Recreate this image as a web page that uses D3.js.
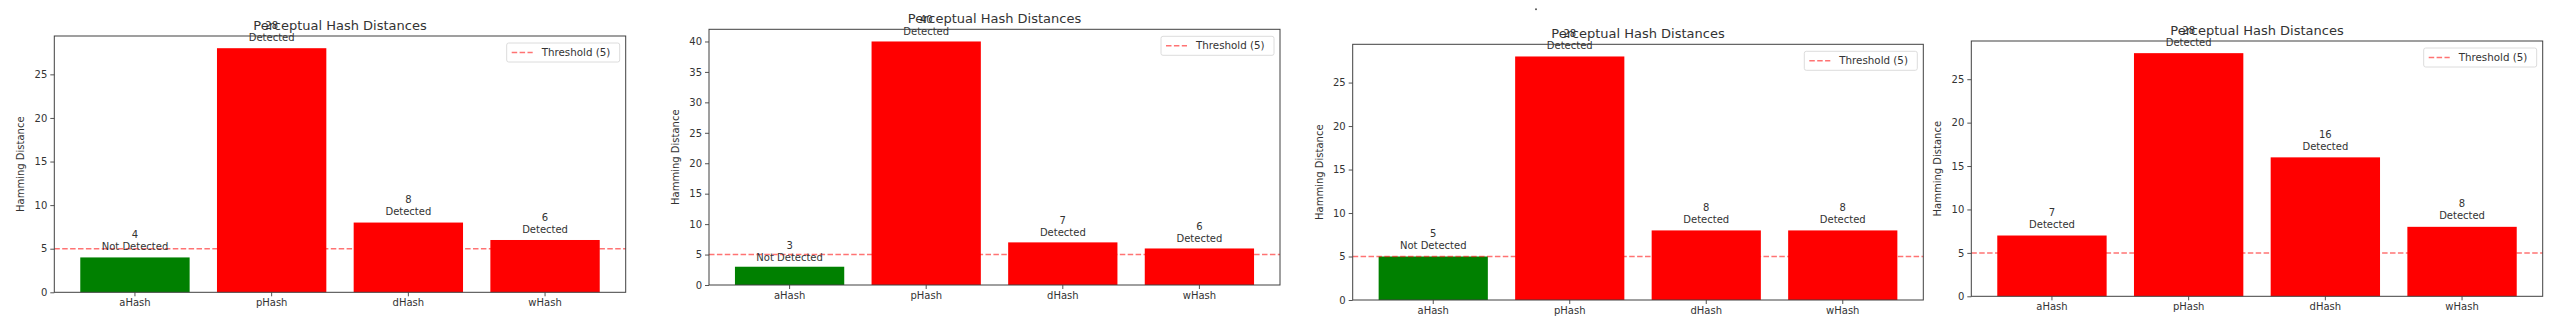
<!DOCTYPE html>
<html>
<head>
<meta charset="utf-8">
<script src="https://cdn.jsdelivr.net/npm/d3@7"></script>
<style>
  html, body { margin: 0; padding: 0; background: #ffffff; }
  svg { display: block; }
  text { font-family: "DejaVu Sans", sans-serif; fill: #333333; }
</style>
</head>
<body>
<svg id="chart" width="2551" height="327"></svg>
<script>
// ---------------- DATA ----------------
const methods = ["aHash", "pHash", "dHash", "wHash"];
const distancesRun1 = [4, 28, 8, 6];
const distancesRun2 = [3, 40, 7, 6];
const distancesRun3 = [5, 28, 8, 8];
const distancesRun4 = [7, 28, 16, 8];
const threshold = 5;
const yTicksRun1 = [0, 5, 10, 15, 20, 25];
const yTicksRun2 = [0, 5, 10, 15, 20, 25, 30, 35, 40];
const yTicksRun3 = [0, 5, 10, 15, 20, 25];
const yTicksRun4 = [0, 5, 10, 15, 20, 25];
const titleText = "Perceptual Hash Distances";
const yLabelText = "Hamming Distance";
const legendText = "Threshold (5)";
const labelDetected = "Detected";
const labelNotDetected = "Not Detected";

const runs = [
  { values: distancesRun1, ticks: yTicksRun1 },
  { values: distancesRun2, ticks: yTicksRun2 },
  { values: distancesRun3, ticks: yTicksRun3 },
  { values: distancesRun4, ticks: yTicksRun4 }
];

// ---------------- LAYOUT ----------------
const frames = [
  { left: 54.3,   right: 625.7,  top: 36,   bottom: 292.3 },
  { left: 709,    right: 1280,   top: 29.3, bottom: 285 },
  { left: 1352.7, right: 1923.3, top: 44.3, bottom: 300 },
  { left: 1971.3, right: 2542.7, top: 41,   bottom: 296.3 }
];
const COLOR_DET = "#ff0000";
const COLOR_NOT = "#008000";
const AXIS = "#404040";

const svg = d3.select("#chart");
const defs = svg.append("defs");
defs.append("clipPath").attr("id", "clipBottom")
  .append("rect").attr("x", 1926).attr("y", 0).attr("width", 630).attr("height", 313);

// tiny stray dot above panel 3
svg.append("circle").attr("cx", 1536).attr("cy", 9.3).attr("r", 1).attr("fill", "#555");

runs.forEach((run, idx) => {
  const f = frames[idx];
  const g = svg.append("g");
  if (idx === 3) g.attr("clip-path", "url(#clipBottom)");

  const x = d3.scaleBand()
    .domain(methods)
    .range([f.left, f.right])
    .paddingInner(0.2)
    .paddingOuter(0.19);

  const yMax = d3.max(run.values) * 1.05;
  const y = d3.scaleLinear().domain([0, yMax]).range([f.bottom, f.top]);

  const data = methods.map((m, i) => ({
    m, v: run.values[i], det: run.values[i] > threshold
  }));

  // bars
  g.selectAll("rect.bar").data(data).enter().append("rect")
    .attr("class", "bar")
    .attr("x", d => x(d.m))
    .attr("width", x.bandwidth())
    .attr("y", d => y(d.v))
    .attr("height", d => y(0) - y(d.v))
    .attr("fill", d => d.det ? COLOR_DET : COLOR_NOT);

  // threshold line
  g.append("line")
    .attr("x1", f.left).attr("x2", f.right)
    .attr("y1", y(threshold)).attr("y2", y(threshold))
    .attr("stroke", "#ff0000").attr("stroke-opacity", 0.55)
    .attr("stroke-width", 1.5)
    .attr("stroke-dasharray", "5.5,2.4");

  // value labels
  const lbl = g.selectAll("text.lbl").data(data).enter().append("text")
    .attr("class", "lbl")
    .attr("text-anchor", "middle")
    .style("font-size", "10px")
    .attr("transform", d => `translate(${x(d.m) + x.bandwidth() / 2},${y(d.v + 0.5) - 3})`);
  lbl.append("tspan").attr("x", 0).attr("y", -12).text(d => d.v);
  lbl.append("tspan").attr("x", 0).attr("y", 0).text(d => d.det ? labelDetected : labelNotDetected);

  // axes
  const yAxis = d3.axisLeft(y).tickValues(run.ticks).tickSize(4).tickPadding(3);
  const ya = g.append("g").attr("transform", `translate(${f.left},0)`).call(yAxis);
  ya.select(".domain").remove();
  ya.selectAll("line").attr("stroke", AXIS).attr("stroke-width", 0.9);
  ya.selectAll("text").style("font-size", "10px").style("font-family", "DejaVu Sans").attr("fill", "#333");

  const xAxis = d3.axisBottom(x).tickSize(4).tickPadding(3);
  const xa = g.append("g").attr("transform", `translate(0,${f.bottom})`).call(xAxis);
  xa.select(".domain").remove();
  xa.selectAll("line").attr("stroke", AXIS).attr("stroke-width", 0.9);
  xa.selectAll("text").style("font-size", "10px").style("font-family", "DejaVu Sans").attr("fill", "#333");

  // frame
  g.append("rect")
    .attr("x", f.left).attr("y", f.top)
    .attr("width", f.right - f.left).attr("height", f.bottom - f.top)
    .attr("fill", "none").attr("stroke", AXIS).attr("stroke-width", 1);

  // title
  g.append("text")
    .attr("x", (f.left + f.right) / 2).attr("y", f.top - 6)
    .attr("text-anchor", "middle")
    .style("font-size", "13px")
    .text(titleText);

  // y label
  g.append("text")
    .attr("transform", `translate(${f.left - 30},${(f.top + f.bottom) / 2}) rotate(-90)`)
    .attr("text-anchor", "middle")
    .style("font-size", "10px")
    .text(yLabelText);

  // legend
  const lgW = 113, lgH = 19;
  const lx = f.right - 6 - lgW, ly = f.top + 7;
  const lg = g.append("g").attr("transform", `translate(${lx},${ly})`);
  lg.append("rect").attr("width", lgW).attr("height", lgH).attr("rx", 2)
    .attr("fill", "#fff").attr("fill-opacity", 0.8)
    .attr("stroke", "#dcdcdc").attr("stroke-width", 1);
  lg.append("line").attr("x1", 5).attr("x2", 26).attr("y1", lgH / 2).attr("y2", lgH / 2)
    .attr("stroke", "#ff0000").attr("stroke-opacity", 0.55).attr("stroke-width", 1.5)
    .attr("stroke-dasharray", "5.5,2.4");
  lg.append("text").attr("x", 35).attr("y", lgH / 2).attr("dy", "0.35em")
    .style("font-size", "10.3px").text(legendText);
});
</script>
</body>
</html>
